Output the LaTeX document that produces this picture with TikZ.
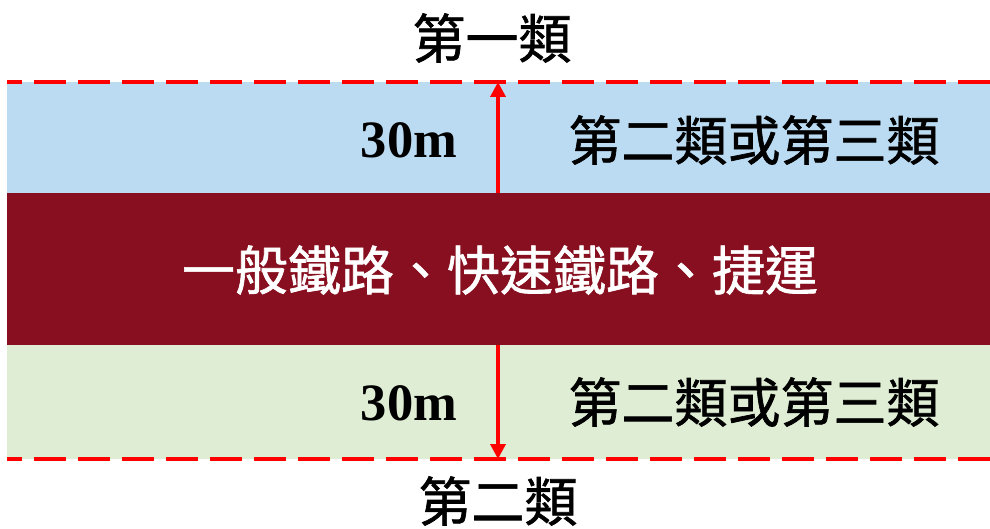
\documentclass[tikz,border=0pt]{standalone}
\usepackage{fontspec}
\newfontfamily\cjk{Noto Sans CJK TC}[FakeBold=1.2]
\newfontfamily\tnr{Liberation Serif}
\usetikzlibrary{arrows.meta}
\definecolor{bandblue}{HTML}{BBDBF3}
\definecolor{bandgreen}{HTML}{DEEDD3}
\definecolor{bandred}{HTML}{870F1F}
\definecolor{linered}{HTML}{FF0000}
\tikzset{
  cjktext/.style={font=\cjk\fontsize{53}{60}\selectfont, inner sep=0pt},
  dimtext/.style={font=\tnr\bfseries\fontsize{52.5}{60}\selectfont, inner sep=0pt, anchor=base},
  boundary/.style={draw=linered, line width=4pt, dash pattern=on 32pt off 12pt, dash phase=17pt},
  dimarrow/.style={draw=linered, line width=3.5pt, -{Triangle[length=15pt,width=15pt]}, shorten >=0pt},
}
\begin{document}
\begin{tikzpicture}[x=1pt,y=-1pt]
\useasboundingbox (0,0) rectangle (990,529);
% bands
\fill[bandblue] (7,82) rectangle (990,193);
\fill[bandred] (7,193) rectangle (990,345);
\fill[bandgreen] (7,345) rectangle (990,459);
% boundaries
\coordinate (tl) at (7,82);
\coordinate (tr) at (990,82);
\coordinate (bl) at (7,459);
\coordinate (br) at (990,459);
\draw[boundary] (tl) -- (tr);
\draw[boundary] (bl) -- (br);
% arrows
\coordinate (a1s) at (498,193);
\coordinate (a1e) at (498,82);
\coordinate (a2s) at (498,345);
\coordinate (a2e) at (498,459);
\draw[dimarrow] (a1s) -- (a1e);
\draw[dimarrow] (a2s) -- (a2e);
% texts
\node[cjktext] (top) at (492,38) {第一類};
\node[cjktext] (bottom) at (498,501) {第二類};
\node[cjktext, text=white] (mid) at (500,270) {一般鐵路、快速鐵路、捷運};
\node[cjktext] (rt) at (754,140) {第二類或第三類};
\node[cjktext] (rb) at (754,402) {第二類或第三類};
\node[dimtext] (dt) at (409,158) {30m};
\node[dimtext] (db) at (409,420) {30m};
\end{tikzpicture}
\end{document}
